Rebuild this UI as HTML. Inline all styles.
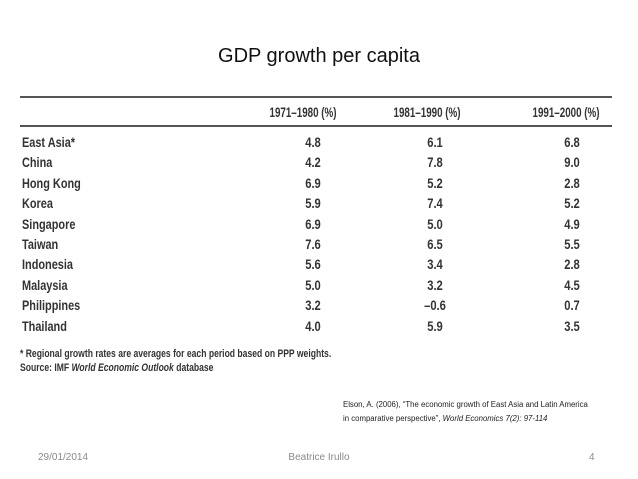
<!DOCTYPE html>
<html><head><meta charset="utf-8">
<style>
body{margin:0;background:#fff;}
#slide{position:relative;width:638px;height:479px;overflow:hidden;background:#fff;font-family:"Liberation Sans",sans-serif;}
.t{position:absolute;white-space:nowrap;}
.nar{font-family:"Liberation Sans Narrow","Liberation Sans",sans-serif;color:#333;font-size:14px;line-height:16px;font-weight:bold;}
.rule{position:absolute;left:20px;width:592px;background:#555;}
</style></head>
<body>
<div id="slide">
  <div class="t" style="left:0;width:638px;text-align:center;top:45px;font-size:20px;color:#111;">GDP growth per capita</div>
  <div class="rule" style="top:96px;height:2px;"></div>
  <div class="rule" style="top:125px;height:2px;"></div>
  <div id="tbl"></div>
  <div class="t nar" style="left:20px;top:346px;font-size:11px;transform:scaleX(0.78);transform-origin:left;">* Regional growth rates are averages for each period based on PPP weights.</div>
  <div class="t nar" style="left:20px;top:360px;font-size:11px;transform:scaleX(0.78);transform-origin:left;">Source: IMF <i>World Economic Outlook</i> database</div>
  <div class="t" style="left:343px;top:398px;font-size:7.8px;line-height:14px;color:#222;">Elson, A. (2006), “The economic growth of East Asia and Latin America<br>in comparative perspective”, <i>World Economics 7(2): 97-114</i></div>
  <div class="t" style="left:38px;top:452px;font-size:10px;color:#8a8a8a;">29/01/2014</div>
  <div class="t" style="left:0;width:638px;text-align:center;top:452px;font-size:10px;color:#8a8a8a;">Beatrice Irullo</div>
  <div class="t" style="left:589px;top:452px;font-size:10px;color:#8a8a8a;">4</div>
</div>
<script>
const headers = ["1971–1980 (%)", "1981–1990 (%)", "1991–2000 (%)"];
const countries = ["East Asia*","China","Hong Kong","Korea","Singapore","Taiwan","Indonesia","Malaysia","Philippines","Thailand"];
const v1971 = ["4.8","4.2","6.9","5.9","6.9","7.6","5.6","5.0","3.2","4.0"];
const v1981 = ["6.1","7.8","5.2","7.4","5.0","6.5","3.4","3.2","–0.6","5.9"];
const v1991 = ["6.8","9.0","2.8","5.2","4.9","5.5","2.8","4.5","0.7","3.5"];
const series = [v1971, v1981, v1991];
const colX = [313, 435, 572];
const tbl = document.getElementById('tbl');
function mk(txt, cx, cy, center, sx){
  const d = document.createElement('div');
  d.className = 't nar';
  d.textContent = txt;
  d.style.top = (cy - 8) + 'px';
  if (center){ d.style.left = (cx - 60) + 'px'; d.style.width = '120px'; d.style.textAlign = 'center'; d.style.transform='scaleX(' + sx + ')'; }
  else { d.style.left = cx + 'px'; d.style.transform='scaleX(' + sx + ')'; d.style.transformOrigin='left'; }
  tbl.appendChild(d);
  return d;
}
headers.forEach((h, i) => {
  const el = mk(h, colX[i] - (i===0?10:(i===1?8:6)), 112, true, 0.7);
  
  
});
countries.forEach((c, r) => {
  const y = 142 + r * 20.4;
  const el = mk(c, 22, y, false, 0.78);
  
  
  series.forEach((s, i) => {
    const v = mk(s[r], colX[i], y, true, 0.8);
    
    
  });
});
</script>
</body></html>
